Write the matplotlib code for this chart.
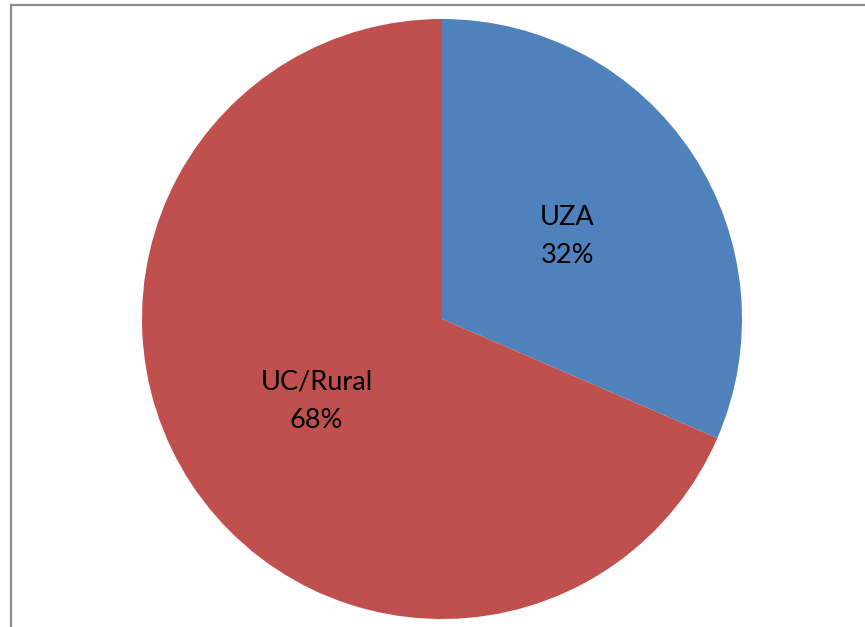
import matplotlib.pyplot as plt
from matplotlib.lines import Line2D

# area type split
names = ['UZA', 'UC/Rural']
shares = [31.5, 68.5]
pct_labels = ['32%', '68%']
colors = ['#4F81BD', '#C0504D']

W, H = 865, 627
fig = plt.figure(figsize=(W / 100, H / 100), dpi=100)
fig.patch.set_facecolor('white')

# pie centre (442, 319) px, radius 300 px
cx, cy, r = 442, 319, 300
ax = fig.add_axes([(cx - r) / W, (H - cy - r) / H, 2 * r / W, 2 * r / H])

labels = [f'{n}\n{p}' for n, p in zip(names, pct_labels)]
wedges, texts = ax.pie(shares, colors=colors, startangle=90, counterclock=False,
                       labels=labels, labeldistance=0.5, radius=1,
                       wedgeprops=dict(linewidth=0, antialiased=True),
                       textprops=dict(fontsize=19.5, family='Lato', color='black',
                                      ha='center', va='center', linespacing=1.65))
for t in texts:
    t.set_horizontalalignment('center')
    t.set_verticalalignment('center')
ax.set_xlim(-1, 1)
ax.set_ylim(-1, 1)
ax.set_aspect('equal')
ax.axis('off')

# partial chart frame (left and top edges)
fc = '#8C8C8C'
fig.add_artist(Line2D([11 / W, 11 / W], [0, 1 - 5 / H], color=fc, lw=1.6,
                      transform=fig.transFigure))
fig.add_artist(Line2D([11 / W, 1], [1 - 5 / H, 1 - 5 / H], color=fc, lw=1.6,
                      transform=fig.transFigure))

fig.savefig('out.png', dpi=100)
